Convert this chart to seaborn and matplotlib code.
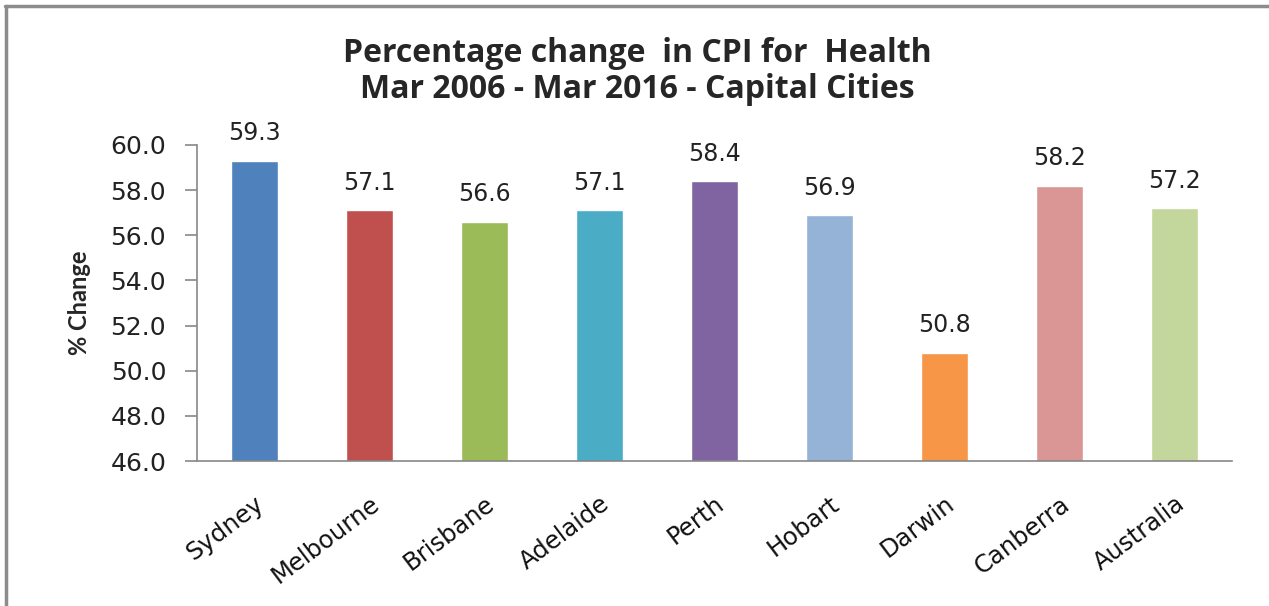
import matplotlib
matplotlib.use('Agg')
import matplotlib.pyplot as plt
import matplotlib.lines as mlines
import numpy as np
import pandas as pd
import seaborn as sns

cities = ['Sydney', 'Melbourne', 'Brisbane', 'Adelaide', 'Perth', 'Hobart',
          'Darwin', 'Canberra', 'Australia']
change = [59.3, 57.1, 56.6, 57.1, 58.4, 56.9, 50.8, 58.2, 57.2]
colores = ['#4F81BD', '#C0504D', '#9BBB59', '#4BACC6', '#8064A2', '#95B3D7',
           '#F79646', '#D99694', '#C3D69B']

df = pd.DataFrame({'city': cities, 'change': change})

sns.set_style('white')
plt.rcParams['font.family'] = ['DejaVu Sans']

fig = plt.figure(figsize=(12.69, 6.06), dpi=100)
ax = fig.add_axes([0.155, 0.239, 0.816, 0.522])

sns.barplot(data=df, x='city', y='change', hue='city', palette=colores,
            legend=False, width=0.41, ax=ax, saturation=1)

# eixo y comeca em 46 como no Excel
ax.set_ylim(46, 60)
ax.set_xlim(-0.5, len(cities) - 0.5)
yt = np.arange(46, 60.1, 2)
ax.set_yticks(yt)
ax.set_yticklabels([f'{v:.1f}' for v in yt], fontsize=18, color='#222222')

for c in ax.containers:
    ax.bar_label(c, fmt='%.1f', padding=11, fontsize=17, color='#222222')

ax.set_xticks(range(len(cities)))
ax.set_xticklabels(cities, rotation=37, ha='right', rotation_mode='anchor',
                   fontsize=17.5, color='#111111')
ax.set_xticks(np.arange(-0.5, len(cities)), minor=True)
ax.tick_params(axis='x', which='major', length=0, pad=22)
ax.tick_params(axis='x', which='minor', length=9, width=1.2, color='#888888', direction='out')
ax.tick_params(axis='y', length=9, width=1.2, color='#888888', direction='out', left=True, pad=13)

ax.set_xlabel('')
ax.set_ylabel('% Change', fontsize=17, fontweight='bold', family='Lato', labelpad=14)

for s in ['top', 'right']:
    ax.spines[s].set_visible(False)
for s in ['left', 'bottom']:
    ax.spines[s].set_color('#888888')
    ax.spines[s].set_linewidth(1.2)

fig.text(0.502, 0.882, 'Percentage change  in CPI for  Health\nMar 2006 - Mar 2016 - Capital Cities',
         ha='center', va='center', fontsize=23, fontweight='bold', family='Open Sans',
         linespacing=1.12)

# moldura cinza (so topo e esquerda aparecem)
fig.lines.append(mlines.Line2D([0.004, 1], [0.99, 0.99], transform=fig.transFigure,
                               color='#8c8c8c', linewidth=2.5))
fig.lines.append(mlines.Line2D([0.005, 0.005], [0, 0.99], transform=fig.transFigure,
                               color='#8c8c8c', linewidth=2.5))

plt.savefig('out.png', dpi=100)
